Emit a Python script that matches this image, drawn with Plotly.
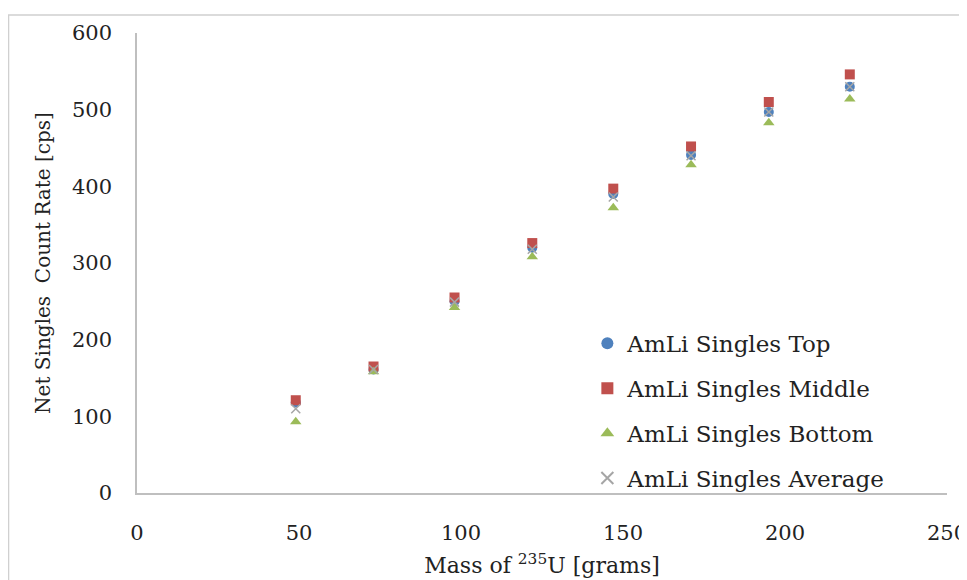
import plotly.graph_objects as go

mass = [49, 73, 98, 122, 147, 171, 195, 220]
top = [118, 161, 250, 320, 390, 441, 497, 530]
middle = [121, 165, 255, 326, 397, 452, 510, 546]
bottom = [93, 158, 242, 308, 372, 428, 483, 514]
average = [110, 161, 249, 318, 386, 440, 497, 530]

x_ticks = [0, 50, 100, 150, 200, 250]
y_ticks = [0, 100, 200, 300, 400, 500, 600]

series = [
    ("AmLi Singles Top", top, "circle", "#4F81BD", 10),
    ("AmLi Singles Middle", middle, "square", "#C0504D", 10),
    ("AmLi Singles Bottom", bottom, "triangle-up", "#9BBB59", 10),
    ("AmLi Singles Average", average, "x-thin", "#A6A6A6", 9),
]

fig = go.Figure()
for i, (name, vals, sym, col, sz) in enumerate(series):
    marker = dict(symbol=sym, color=col, size=sz)
    if sym == "x-thin":
        marker["line"] = dict(color=col, width=1.5)
    fig.add_trace(go.Scatter(x=mass, y=vals, mode="markers", name=name,
                             marker=marker, legendgroup=f"g{i}"))

font_family = "DejaVu Serif, Liberation Serif, serif"
# the page body adds an 8px offset, so the figure is sized to fit the window
fig.update_layout(
    width=959, height=572,
    paper_bgcolor="white", plot_bgcolor="white",
    margin=dict(l=129, r=20, t=25, b=87),
    font=dict(family=font_family, size=21, color="#222222"),
    showlegend=True,
    legend=dict(x=0.556, y=0.372, xanchor="left", yanchor="top",
                font=dict(size=23, family=font_family, color="#222222"),
                tracegroupgap=12, bgcolor="rgba(0,0,0,0)", itemsizing="constant"),
    xaxis=dict(range=[0, 250], tickvals=x_ticks, showgrid=False, zeroline=False,
               showline=True, linecolor="#BFBFBF", linewidth=1.5, ticks="",
               ticklabelstandoff=20, automargin=False, ticklabeloverflow="allow",
               title=dict(text="Mass of <sup>235</sup>U [grams]", standoff=14,
                          font=dict(size=22))),
    yaxis=dict(range=[0, 600], tickvals=y_ticks, showgrid=False, zeroline=False,
               showline=True, linecolor="#BFBFBF", linewidth=1.5, ticks="",
               ticklabelstandoff=19, automargin=False, ticklabeloverflow="allow",
               title=dict(text="Net Singles  Count Rate [cps]", standoff=16,
                          font=dict(size=20))),
    shapes=[dict(type="rect", xref="paper", yref="paper",
                 x0=-0.1586, x1=1.2, y0=-0.4, y1=1.039,
                 line=dict(color="#D0D0D0", width=1.5), fillcolor="rgba(0,0,0,0)")],
)

fig.write_html("out.html")
